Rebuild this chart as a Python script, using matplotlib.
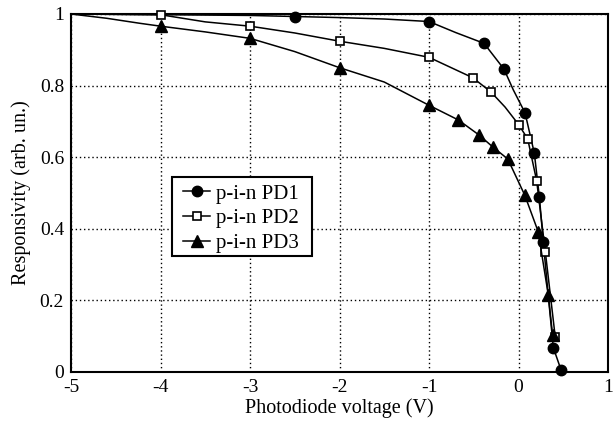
import matplotlib
matplotlib.use("Agg")
import matplotlib.pyplot as plt
from matplotlib.patches import Rectangle

plt.rcParams['font.family'] = ['Liberation Serif', 'DejaVu Serif']

# PD1 (filled circles)
pd1_v = [-5.0, -4.0, -3.0, -2.5, -2.0, -1.5, -1.0, -0.7, -0.385, -0.162, -0.058, 0.073, 0.177, 0.233, 0.277, 0.33, 0.389, 0.475]
pd1_r = [1.0, 0.998, 0.996, 0.993, 0.99, 0.986, 0.979, 0.948, 0.918, 0.846, 0.788, 0.724, 0.611, 0.489, 0.363, 0.22, 0.068, 0.006]
pd1_mk = [False, False, False, True, False, False, True, False, True, True, False, True, True, True, True, False, True, True]

# PD2 (open squares)
pd2_v = [-5.0, -4.0, -3.5, -3.0, -2.5, -2.0, -1.5, -1.0, -0.511, -0.307, -0.15, 0.002, 0.103, 0.203, 0.30, 0.41]
pd2_r = [1.0, 0.998, 0.978, 0.966, 0.947, 0.924, 0.904, 0.879, 0.822, 0.782, 0.74, 0.691, 0.651, 0.534, 0.335, 0.099]
pd2_mk = [False, True, False, True, False, True, False, True, True, True, False, True, True, True, True, True]

# PD3 (filled triangles)
pd3_v = [-5.0, -4.6, -4.23, -4.0, -3.5, -3.0, -2.5, -2.0, -1.5, -1.0, -0.672, -0.441, -0.289, -0.12, 0.07, 0.22, 0.333, 0.381]
pd3_r = [1.0, 0.988, 0.974, 0.966, 0.95, 0.932, 0.895, 0.85, 0.81, 0.745, 0.704, 0.662, 0.629, 0.595, 0.494, 0.392, 0.215, 0.103]
pd3_mk = [False, False, False, True, False, True, False, True, False, True, True, True, True, True, True, True, True, True]

x_ticks = [-5, -4, -3, -2, -1, 0, 1]
y_ticks = [0, 0.2, 0.4, 0.6, 0.8, 1]
y_labels = ['0', '0.2', '0.4', '0.6', '0.8', '1']

fig = plt.figure(figsize=(6.15, 4.28), dpi=100)
ax = fig.add_axes([71/615, 1 - 372/428, 537/615, 358/428])

ax.plot(pd1_v, pd1_r, color='black', lw=1.1, marker='o', markersize=7.5,
        markerfacecolor='black', markeredgecolor='black', markevery=pd1_mk,
        label='p-i-n PD1', clip_on=False, zorder=3)
ax.plot(pd2_v, pd2_r, color='black', lw=1.1, marker='s', markersize=5.5,
        markerfacecolor='white', markeredgecolor='black', markeredgewidth=1.2,
        markevery=pd2_mk, label='p-i-n PD2', clip_on=False, zorder=3)
ax.plot(pd3_v, pd3_r, color='black', lw=1.1, marker='^', markersize=8.5,
        markerfacecolor='black', markeredgecolor='black', markevery=pd3_mk,
        label='p-i-n PD3', clip_on=False, zorder=3)

ax.set_xlim(-5, 1)
ax.set_ylim(0, 1)
ax.set_xticks(x_ticks)
ax.set_xticklabels([str(t) for t in x_ticks])
ax.set_yticks(y_ticks)
ax.set_yticklabels(y_labels)
ax.tick_params(length=0, labelsize=14, pad=5)
ax.grid(True, linestyle=(0, (1, 2)), color='black', lw=1.0)
for s in ax.spines.values():
    s.set_linewidth(1.5)
    s.set_color('black')

ax.set_xlabel('Photodiode voltage (V)', fontsize=14.5, labelpad=2)
ax.set_ylabel('Responsivity (arb. un.)', fontsize=14.5, labelpad=6)

# legend frame
frame = Rectangle((0.1886, 0.324), 0.4488 - 0.1886, 0.5455 - 0.324,
                  transform=ax.transAxes, facecolor='white', edgecolor='black',
                  lw=1.5, zorder=4)
ax.add_patch(frame)

leg = ax.legend(loc='upper left', bbox_to_anchor=(0.2086, 0.525), fontsize=15,
                frameon=False, handlelength=1.3, handletextpad=0.3, borderpad=0,
                labelspacing=0.25, borderaxespad=0)
leg.set_zorder(5)

fig.savefig('out.png', dpi=100)
